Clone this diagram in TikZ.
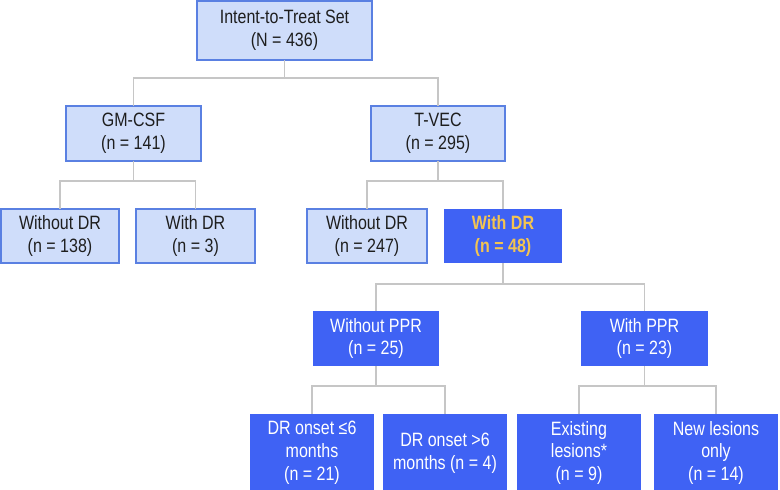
\documentclass[tikz,border=0pt]{standalone}
\usepackage{fontspec}
\setmainfont{Liberation Sans}[FakeStretch=0.83]
\definecolor{lightfill}{HTML}{CFDDFA}
\definecolor{lightedge}{HTML}{5A80E2}
\definecolor{darkfill}{HTML}{3F62F4}
\definecolor{goldtext}{HTML}{F3C451}
\definecolor{linegray}{HTML}{C6C6C6}
\definecolor{textdark}{HTML}{1E1E1E}
\begin{document}
\begin{tikzpicture}[x=1pt,y=-1pt,
  box/.style={rectangle,inner sep=0pt,outer sep=0pt,align=center,
    font=\fontsize{19.3}{22.8}\selectfont},
  lightbox/.style={box,fill=lightfill,draw=lightedge,line width=1.3pt,text=textdark},
  darkbox/.style={box,fill=darkfill,draw=none,text=white},
  conn/.style={draw=linegray,line width=1.2pt}]
\useasboundingbox (0,0) rectangle (780,490);
% level 0
\node[lightbox,minimum width=175pt,minimum height=59pt] (itt) at (284.5,30.5) {Intent-to-Treat Set\\(N = 436)};
% level 1
\node[lightbox,minimum width=135pt,minimum height=55pt] (gm) at (133.5,133.5) {GM-CSF\\(n = 141)};
\node[lightbox,minimum width=134pt,minimum height=55pt] (tvec) at (438,133.5) {T-VEC\\(n = 295)};
% level 2
\node[lightbox,minimum width=118pt,minimum height=54pt] (gmno) at (60,236) {Without DR\\(n = 138)};
\node[lightbox,minimum width=119pt,minimum height=54pt] (gmyes) at (195.5,236) {With DR\\(n = 3)};
\node[lightbox,minimum width=120pt,minimum height=54pt] (tvno) at (367,236) {Without DR\\(n = 247)};
\node[darkbox,minimum width=118pt,minimum height=54pt,text=goldtext,font=\fontsize{19.3}{22.8}\selectfont\bfseries] (tvyes) at (503,236) {With DR\\(n = 48)};
% level 3
\node[darkbox,minimum width=126pt,minimum height=55pt] (noppr) at (376,338.5) {Without PPR\\(n = 25)};
\node[darkbox,minimum width=127pt,minimum height=55pt] (ppr) at (644.5,338.5) {With PPR\\(n = 23)};
% level 4
\node[darkbox,minimum width=124pt,minimum height=78pt] (b1) at (312,453) {DR onset ≤6\\months\\(n = 21)};
\node[darkbox,minimum width=124pt,minimum height=78pt] (b2) at (445,453) {DR onset >6\\months (n = 4)};
\node[darkbox,minimum width=124pt,minimum height=78pt] (b3) at (579,453) {Existing\\lesions*\\(n = 9)};
\node[darkbox,minimum width=124pt,minimum height=78pt] (b4) at (716,453) {New lesions\\only\\(n = 14)};
% connectors
\coordinate (j0) at (284.5,78);
\coordinate (j1) at (133.5,181);
\coordinate (j2) at (438,181);
\coordinate (j3) at (503,284);
\coordinate (j4) at (376,386);
\coordinate (j5) at (644.5,386);
\draw[conn] (itt.south) -- (j0);
\draw[conn] (gm.north) |- (j0) -| (tvec.north);
\draw[conn] (gm.south) -- (j1);
\draw[conn] (gmno.north) |- (j1) -| (gmyes.north);
\draw[conn] (tvec.south) -- (j2);
\draw[conn] (tvno.north) |- (j2) -| (tvyes.north);
\draw[conn] (tvyes.south) -- (j3);
\draw[conn] (noppr.north) |- (j3) -| (ppr.north);
\draw[conn] (noppr.south) -- (j4);
\draw[conn] (b1.north) |- (j4) -| (b2.north);
\draw[conn] (ppr.south) -- (j5);
\draw[conn] (b3.north) |- (j5) -| (b4.north);
\end{tikzpicture}
\end{document}
